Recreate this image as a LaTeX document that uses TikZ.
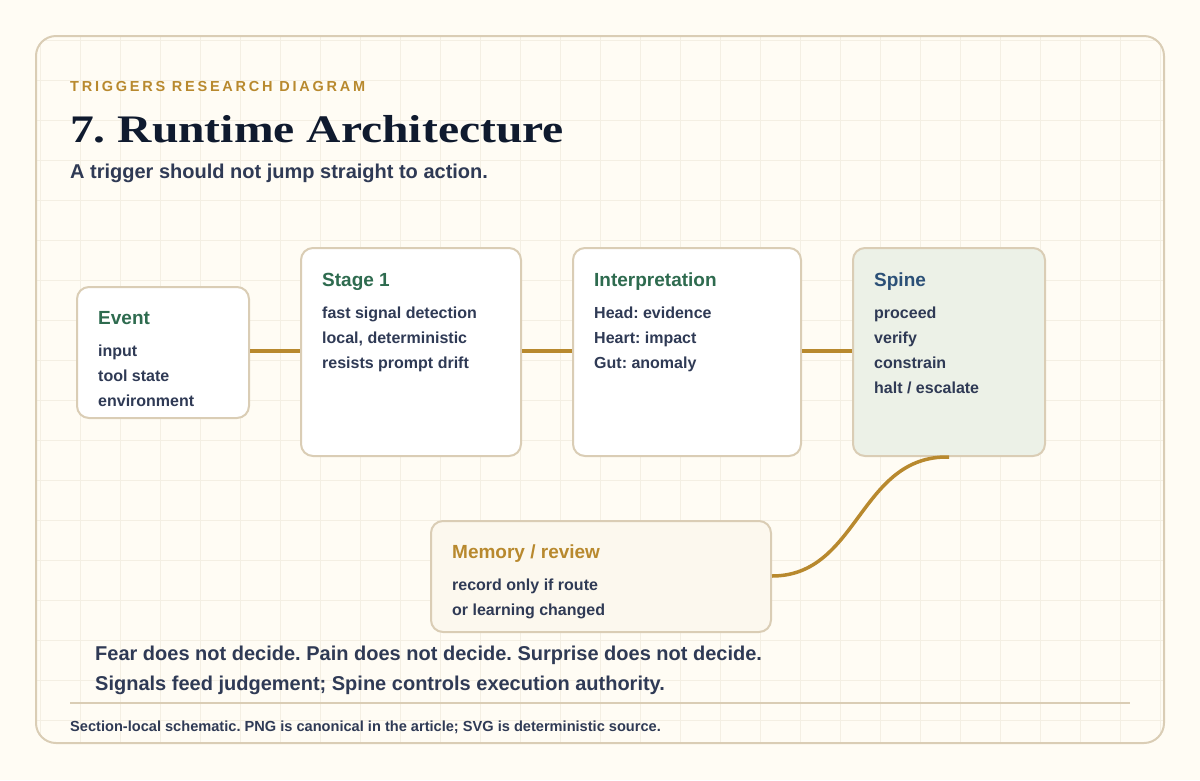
\documentclass[tikz,border=0pt]{standalone}
\usepackage{fontspec}
\setmainfont{Liberation Sans}
\newfontfamily\titlefont[FakeStretch=1.22]{Liberation Serif Bold}
\newfontfamily\spacedfont[LetterSpace=19]{Liberation Sans}
\definecolor{bgc}{HTML}{FFFCF4}
\definecolor{gridc}{HTML}{F4EFE3}
\definecolor{borderc}{HTML}{DACDB5}
\definecolor{goldc}{HTML}{B8892E}
\definecolor{navyc}{HTML}{0F1A2E}
\definecolor{slatec}{HTML}{2F3A55}
\definecolor{greenc}{HTML}{2E6B4F}
\definecolor{bluec}{HTML}{2B5077}
\definecolor{spinefill}{HTML}{ECF1E7}
\definecolor{memfill}{HTML}{FCF8EE}
\tikzset{
  box/.style={draw=borderc, line width=2pt, fill=white, rounded corners=12pt, rectangle, anchor=north west, inner sep=0pt},
  boxtitle/.style={anchor=base west, inner sep=0pt, font=\bfseries\fontsize{19}{20}\selectfont, text=greenc},
  boxline/.style={anchor=base west, inner sep=0pt, font=\bfseries\fontsize{16}{18}\selectfont, text=slatec},
  link/.style={draw=goldc, line width=3.5pt},
  plain/.style={anchor=base west, inner sep=0pt, text=slatec},
}
\begin{document}
\frenchspacing
\begin{tikzpicture}[x=1pt,y=-1pt]
\useasboundingbox (0,0) rectangle (1200,780);
\fill[bgc] (0,0) rectangle (1200,780);
% card
\fill[bgc, rounded corners=20pt] (36,36) rectangle (1164,743);
\begin{scope}
  \clip[rounded corners=20pt] (36,36) rectangle (1164,743);
  \foreach \i in {40,80,...,1160} \draw[gridc, line width=1pt] (\i,36) -- (\i,743);
  \foreach \j in {40,80,...,740} \draw[gridc, line width=1pt] (36,\j) -- (1164,\j);
\end{scope}
\draw[borderc, line width=2pt, rounded corners=20pt] (36,36) rectangle (1164,743);

% header
\node[plain, text=goldc, font=\spacedfont\bfseries\fontsize{14.5}{16}\selectfont] (kicker) at (70,91) {TRIGGERS RESEARCH DIAGRAM};
\node[plain, text=navyc, font=\titlefont\fontsize{39}{40}\selectfont] (title) at (70,142) {7. Runtime Architecture};
\node[plain, font=\bfseries\fontsize{20}{22}\selectfont] (subtitle) at (70,178) {A trigger should not jump straight to action.};

% boxes
\node[box, minimum width=172pt, minimum height=131pt] (event) at (76,286) {};
\node[box, minimum width=220pt, minimum height=208pt] (stage) at (300,247) {};
\node[box, minimum width=228pt, minimum height=208pt] (interp) at (572,247) {};
\node[box, fill=spinefill, minimum width=192pt, minimum height=208pt] (spine) at (852,247) {};
\node[box, fill=memfill, minimum width=340pt, minimum height=111pt] (memory) at (430,520) {};

% box texts
\node[boxtitle] (eventT) at (98,324) {Event};
\node[boxline] at (98,356) {input};
\node[boxline] at (98,381) {tool state};
\node[boxline] at (98,406) {environment};

\node[boxtitle] (stageT) at (322,286) {Stage 1};
\node[boxline] at (322,318) {fast signal detection};
\node[boxline] at (322,343) {local, deterministic};
\node[boxline] at (322,368) {resists prompt drift};

\node[boxtitle] (interpT) at (594,286) {Interpretation};
\node[boxline] at (594,318) {Head: evidence};
\node[boxline] at (594,343) {Heart: impact};
\node[boxline] at (594,368) {Gut: anomaly};

\node[boxtitle, text=bluec] (spineT) at (874,286) {Spine};
\node[boxline] at (874,318) {proceed};
\node[boxline] at (874,343) {verify};
\node[boxline] at (874,368) {constrain};
\node[boxline] at (874,393) {halt / escalate};

\node[boxtitle, text=goldc] (memoryT) at (452,558) {Memory / review};
\node[boxline] at (452,590) {record only if route};
\node[boxline] at (452,615) {or learning changed};

% connectors
\coordinate (e1) at (event.east |- 0,351);
\coordinate (s1) at (stage.west |- 0,351);
\coordinate (s2) at (stage.east |- 0,351);
\coordinate (i1) at (interp.west |- 0,351);
\coordinate (i2) at (interp.east |- 0,351);
\coordinate (p1) at (spine.west |- 0,351);
\draw[link] (e1) -- (s1);
\draw[link] (s2) -- (i1);
\draw[link] (i2) -- (p1);
\coordinate (mr) at (memory.east |- 0,576);
\draw[link] (spine.south) .. controls (859,455) and (859,576) .. (mr);

% statement
\node[plain, font=\bfseries\fontsize{20}{22}\selectfont] (s1t) at (95,660) {Fear does not decide. Pain does not decide. Surprise does not decide.};
\node[plain, font=\bfseries\fontsize{20}{22}\selectfont] (s2t) at (95,690) {Signals feed judgement; Spine controls execution authority.};

% footer
\coordinate (fl) at (70,703);
\coordinate (fr) at (1130,703);
\draw[borderc, line width=2pt] (fl) -- (fr);
\node[plain, font=\bfseries\fontsize{14.6}{16}\selectfont] (foot) at (70,731) {Section-local schematic. PNG is canonical in the article; SVG is deterministic source.};
\end{tikzpicture}
\end{document}
